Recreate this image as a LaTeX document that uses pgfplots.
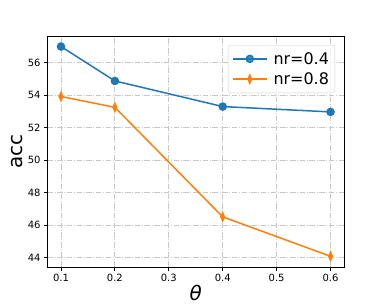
\documentclass[border=0pt]{standalone}
\usepackage{fontspec}
\setmainfont{DejaVu Sans}
\usepackage{pgfplots}
\pgfplotsset{compat=1.18}
\definecolor{tabblue}{HTML}{1F77B4}
\definecolor{taborange}{HTML}{FF7F0E}
\definecolor{gridgray}{HTML}{C8C8C8}
\begin{document}
\begin{tikzpicture}
\begin{axis}[
  name=ax,
  scale only axis,
  width=296.5bp, height=231bp,
  xmin=0.075, xmax=0.625,
  ymin=43.41, ymax=57.65,
  xtick={0.1,0.2,0.3,0.4,0.5,0.6},
  ytick={44,46,48,50,52,54,56},
  xticklabel style={/pgf/number format/.cd,fixed,fixed zerofill,precision=1},
  /pgf/number format/assume math mode=true,
  ticklabel style={font=\fontsize{10}{12}\selectfont},
  tick align=outside,
  tick pos=left,
  major tick length=3.5bp,
  every tick/.style={black, line width=0.8bp},
  axis line style={line width=0.8bp, black},
  grid=major,
  major grid style={gridgray, line width=0.8bp, dash pattern=on 5.5bp off 1.6bp on 1bp off 1.6bp},
  xlabel={\textit{θ}},
  ylabel={acc},
  label style={font=\fontsize{20}{24}\selectfont},
  xlabel style={yshift=3.5bp},
  ylabel style={yshift=-2bp},
  legend style={at={(0.97,0.961)}, anchor=north east, font=\fontsize{16}{19}\selectfont,
    draw=gray!35, fill=white, fill opacity=0.8, text opacity=1, rounded corners=2.5bp,
    row sep=3bp, column sep=4bp, inner xsep=4bp, inner ysep=5bp},
  legend cell align=left,
  legend image code/.code={\draw[#1] (0bp,0bp) -- (17bp,0bp) plot coordinates {(17bp,0bp)} -- (34bp,0bp);},
]
\addplot[tabblue, line width=1.5bp, mark=*, mark size=3.5bp, mark options={solid, fill=tabblue, draw=tabblue}]
  coordinates {(0.1,57.0) (0.2,54.88) (0.4,53.3) (0.6,52.97)};
\addlegendentry{nr=0.4}
\addplot[taborange, line width=1.5bp, mark=diamond*, mark size=4bp, mark options={solid, fill=taborange, draw=taborange, xscale=0.6}]
  coordinates {(0.1,53.92) (0.2,53.25) (0.4,46.5) (0.6,44.07)};
\addlegendentry{nr=0.8}
\end{axis}
\pgfresetboundingbox
\useasboundingbox ([shift={(-47.5bp,-39bp)}]ax.south west) rectangle ++(382bp,306bp);
\end{tikzpicture}
\end{document}
